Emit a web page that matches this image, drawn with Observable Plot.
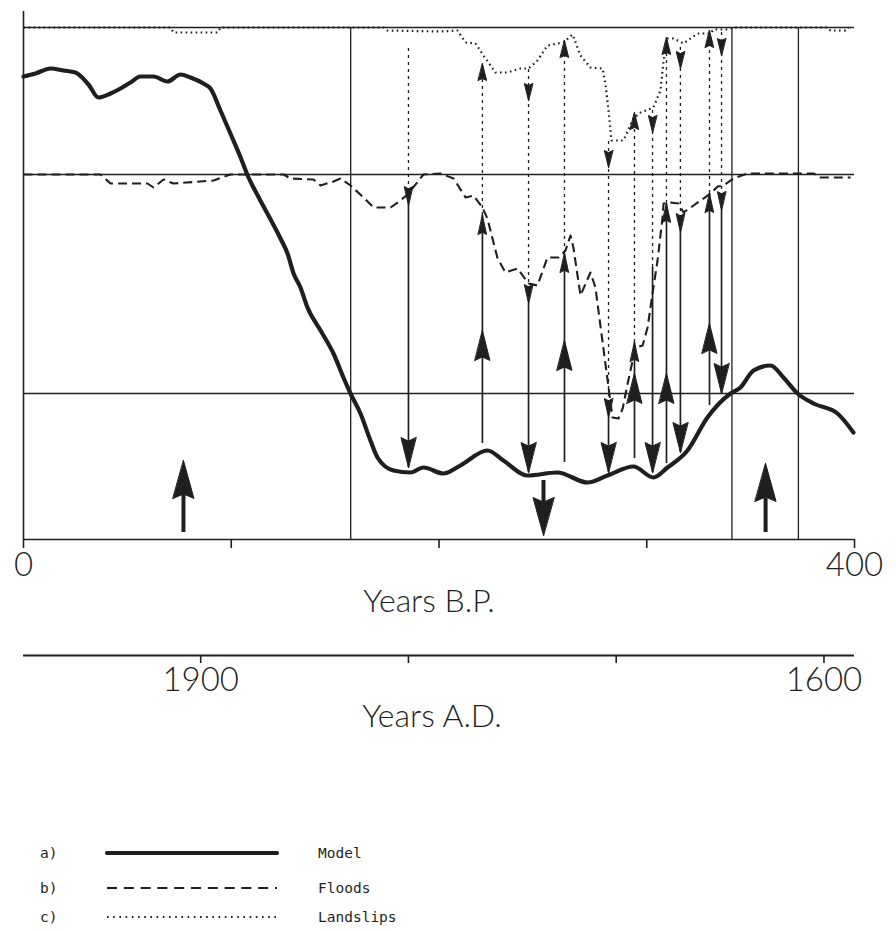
<!DOCTYPE html>
<html><head><meta charset="utf-8">
<script src="https://cdn.jsdelivr.net/npm/d3@7"></script>
<script src="https://cdn.jsdelivr.net/npm/@observablehq/plot@0.6"></script>
<style>
html,body{margin:0;padding:0;background:#fff;}
#wrap{position:relative;width:896px;height:931px;overflow:hidden;background:#fff;}
#wrap > *{position:absolute;left:0;display:block;}
</style></head><body><div id="wrap"></div>
<script>
// ---------- data (x in years B.P., y in arbitrary index units) ----------
const modelBP = [0,5.8,13.0,19.3,25.0,31.3,36.1,41.9,46.7,51.5,56.3,62.6,69.3,75.6,80.4,86.6,90.0,94.8,99.6,104.5,108.3,110.7,117.4,123.7,127.1,130.0,133.3,136.7,143.0,149.2,154.0,157.4,162.2,167.0,170.4,178.1,186.3,192.5,202.2,210.3,223.3,231.0,242.6,257.0,271.5,281.1,293.6,303.2,310.0,319.6,329.2,340.3,345.1,351.4,359.6,365.8,372.6,380.3,391.8,399.5];
const modelValue = [463,466,471,469,467,455,442,446,451,457,463,463,458,465,462,456,451,429,406,382,362,352,326,301,286,266,252,232,209,186,162,146,126,99,82,69,67,72,66,74,89,79,64,67,57,64,73,62,72,89,122,146,152,169,174,162,146,136,126,107];

const floodBP = [0,14.4,37.1,41.9,59.7,62.6,67.4,72.2,91.5,99.6,125.2,128.5,139.6,143.0,149.2,152.6,157.4,163.7,168.5,176.7,181.5,185.3,192.5,200.7,207.0,212.8,216.6,220.9,223.3,228.2,232.0,237.8,243.1,247.4,252.2,257.5,260.9,263.3,264.7,268.1,272.9,275.3,278.2,281.6,283.5,286.4,288.4,290.8,294.6,298.0,300.4,303.2,305.2,307.6,308.1,311.4,315.3,317.7,322.5,330.7,334.1,336.9,341.8,348.5,380.3,383.6,398.1];
const floodValue = [365,365,365,356,356,352,360,356,359,365,365,361,360,354,358,361,354,342,332,332,339,346,365,366,361,342,344,332,321,281,267,271,256,254,282,282,289,304,292,244,267,252,206,152,122,121,131,156,192,194,212,252,279,322,336,337,336,327,334,346,353,354,361,366,366,362,362];

const slipBP = [0,70.8,72.2,93.4,94.8,173.3,175.2,200.7,208.9,212.8,217.6,221.4,227.2,233.0,239.2,243.1,247.4,252.2,259.9,264.3,268.1,272.9,278.7,280.1,281.6,283.0,288.8,293.6,297.0,303.2,306.6,308.1,310.0,312.9,317.7,324.4,330.7,332.1,338.9,341.8,387.0,388.4,395.7,397.1];
const slipValue = [512,512,507,507,512,512,509,508,509,497,496,484,467,467,471,471,479,494,497,505,484,472,471,456,429,399,399,421,427,432,449,479,501,501,496,506,506,510,510,512,512,509,509,512];

// event arrows linking model, floods and landslips
const eventBP       = [185.3,220.9,243.1,260.4,281.6,294.1,302.8,309.5,316.2,330.2,336.0];
const eventDir      = ["down","up","down","up","down","up","down","up","down","up","down"];
const eventLow      = [72,96,67,77,67,81,67,76,87,134,146];
const eventSplit    = [334,324,236,286,122,197,272,336,307,346,329];
const eventHigh     = [494,476,471,499,399,427,432,502,496,509,510];
const eventBigTip   = [72,209,67,199,67,166,67,166,87,216,146];
const eventFloodTip = [334,324,236,286,122,197,null,336,307,346,329];
const eventLandTip  = [null,476,439,499,372,427,407,502,471,509,484];

// stand-alone trend arrows along the bottom
const markerBP   = [77.0, 250.3, 357.2];
const markerDir  = ["up", "down", "up"];
const markerFrom = [7, 59, 7];
const markerTip  = [79, 4, 76];

const panelLines = [146, 365, 512];
const dividerBP  = [157.5, 341, 373];

const bpTicks = [0, 100, 200, 300, 400];
const bpTickLabels = ["0", "", "", "", "400"];
const adTicks = [1900, 1800, 1700, 1600];
const adTickLabels = ["1900", "", "", "1600"];

const legendKeys = ["a)", "b)", "c)"];
const legendNames = ["Model", "Floods", "Landslips"];

// ---------- tables ----------
const model = modelBP.map((x, i) => ({x, y: modelValue[i]}));
const floods = floodBP.map((x, i) => ({x, y: floodValue[i]}));
const slips = slipBP.map((x, i) => ({x, y: slipValue[i]}));
const events = eventBP.map((x, i) => ({
  x, dir: eventDir[i], low: eventLow[i], split: eventSplit[i], high: eventHigh[i],
  big: eventBigTip[i], flood: eventFloodTip[i], land: eventLandTip[i]
}));
const markers = markerBP.map((x, i) => ({x, dir: markerDir[i], from: markerFrom[i], tip: markerTip[i]}));

const ink = "#1f1f1f";
const rot = d => d.dir === "up" ? 0 : 180;
const head = {draw(ctx, l, r) { ctx.moveTo(0, -l); ctx.lineTo(r, 0); ctx.lineTo(0, -l * 0.12); ctx.lineTo(-r, 0); ctx.closePath(); }};
const bpLabel = new Map(bpTicks.map((t, i) => [t, bpTickLabels[i]]));
const adLabel = new Map(adTicks.map((t, i) => [t, adTickLabels[i]]));
const axisFont = "Lato, 'Open Sans', 'DejaVu Sans', sans-serif";

const chart = Plot.plot({
  width: 896, height: 630,
  marginLeft: 23, marginRight: 42, marginTop: 11, marginBottom: 91,
  x: {domain: [0, 400]},
  y: {domain: [0, 528], axis: null},
  style: {background: "white", color: ink, fontFamily: axisFont},
  marks: [
    Plot.ruleY(panelLines, {stroke: ink, strokeWidth: 1.3}),
    Plot.ruleX(dividerBP, {y1: 0, y2: panelLines[2], stroke: ink, strokeWidth: 1.3}),
    Plot.ruleX([0], {stroke: ink, strokeWidth: 1.6}),
    Plot.ruleY([0], {stroke: ink, strokeWidth: 1.6}),
    Plot.line(slips, {x: "x", y: "y", stroke: ink, strokeWidth: 2.2, strokeDasharray: "1.6,3.4", strokeLinecap: "butt"}),
    Plot.line(floods, {x: "x", y: "y", stroke: ink, strokeWidth: 2.1, strokeDasharray: "9,5", strokeLinecap: "butt"}),
    Plot.line(model, {x: "x", y: "y", stroke: ink, strokeWidth: 4.2, curve: "monotone-x", strokeLinejoin: "round"}),
    // event shafts: dotted part and solid part
    Plot.ruleX(events, {x: "x", y1: "split", y2: "high", stroke: ink, strokeWidth: 1.3, strokeDasharray: "3,4"}),
    Plot.ruleX(events, {x: "x", y1: "low", y2: "split", stroke: ink, strokeWidth: 1.7}),
    // arrowheads
    Plot.vector(events, {x: "x", y: "big", rotate: rot, length: 30, r: 7.5, shape: head, anchor: "end", fill: ink, stroke: ink, strokeWidth: 1}),
    Plot.vector(events.filter(d => d.flood != null), {x: "x", y: "flood", rotate: rot, length: 19, r: 4.2, shape: head, anchor: "end", fill: ink, stroke: ink, strokeWidth: 1}),
    Plot.vector(events.filter(d => d.land != null), {x: "x", y: "land", rotate: rot, length: 17, r: 4.2, shape: head, anchor: "end", fill: ink, stroke: ink, strokeWidth: 1}),
    // stand-alone arrows
    Plot.ruleX(markers, {x: "x", y1: "from", y2: d => d.dir === "up" ? d.tip - 20 : d.tip + 20, stroke: ink, strokeWidth: 4}),
    Plot.vector(markers, {x: "x", y: "tip", rotate: rot, length: 38, r: 10.5, shape: head, anchor: "end", fill: ink, stroke: ink, strokeWidth: 1}),
    Plot.axisX({ticks: bpTicks, tickSize: 9, tickPadding: 4, tickFormat: d => bpLabel.get(d), fontSize: 33, fontWeight: 300, strokeWidth: 1.6, label: null}),
    Plot.text(["Years B.P."], {text: d => d, frameAnchor: "bottom", dy: 62, dx: -10, lineAnchor: "middle", fontSize: 32, fontWeight: 300})
  ]
});

const adAxis = Plot.plot({
  width: 896, height: 110,
  marginLeft: 23, marginRight: 42, marginTop: 5, marginBottom: 85,
  x: {domain: [1980, 1580]},
  y: {domain: [0, 1], axis: null},
  style: {background: "transparent", color: ink, fontFamily: axisFont},
  marks: [
    Plot.ruleY([0], {stroke: ink, strokeWidth: 2}),
    Plot.axisX({ticks: adTicks, tickSize: 8, tickPadding: 4, tickFormat: d => adLabel.get(d), fontSize: 33, fontWeight: 300, strokeWidth: 1.6, dx: 11, label: null}),
    Plot.text(["Years A.D."], {text: d => d, frameAnchor: "bottom", dy: 61, dx: -7, lineAnchor: "middle", fontSize: 32, fontWeight: 300})
  ]
});

const wrap = document.getElementById("wrap");
chart.style.top = "0px";
adAxis.style.top = "630px";
wrap.appendChild(chart);
wrap.appendChild(adAxis);

// legend below the chart
const legend = d3.create("svg").attr("width", 896).attr("height", 101).style("top", "830px");
const rowY = [23, 58, 87];
const sampleStyle = [
  {w: 4.2, dash: null, cap: "round"},
  {w: 2.2, dash: "10,6.8", cap: "butt"},
  {w: 2.2, dash: "1.6,4.6", cap: "butt"}
];
legendKeys.forEach((k, i) => {
  const g = legend.append("g").attr("transform", `translate(0,${rowY[i]})`);
  g.append("text").attr("x", 40).attr("dy", "0.35em").text(k)
    .attr("font-family", "'DejaVu Sans Mono', monospace").attr("font-size", 14.5).attr("fill", ink);
  g.append("line").attr("x1", 107).attr("x2", 277).attr("stroke", ink)
    .attr("stroke-width", sampleStyle[i].w).attr("stroke-linecap", sampleStyle[i].cap)
    .attr("stroke-dasharray", sampleStyle[i].dash);
  g.append("text").attr("x", 318).attr("dy", "0.35em").text(legendNames[i])
    .attr("font-family", "'DejaVu Sans Mono', monospace").attr("font-size", 14.5).attr("fill", ink);
});
wrap.appendChild(legend.node());
</script></body></html>
